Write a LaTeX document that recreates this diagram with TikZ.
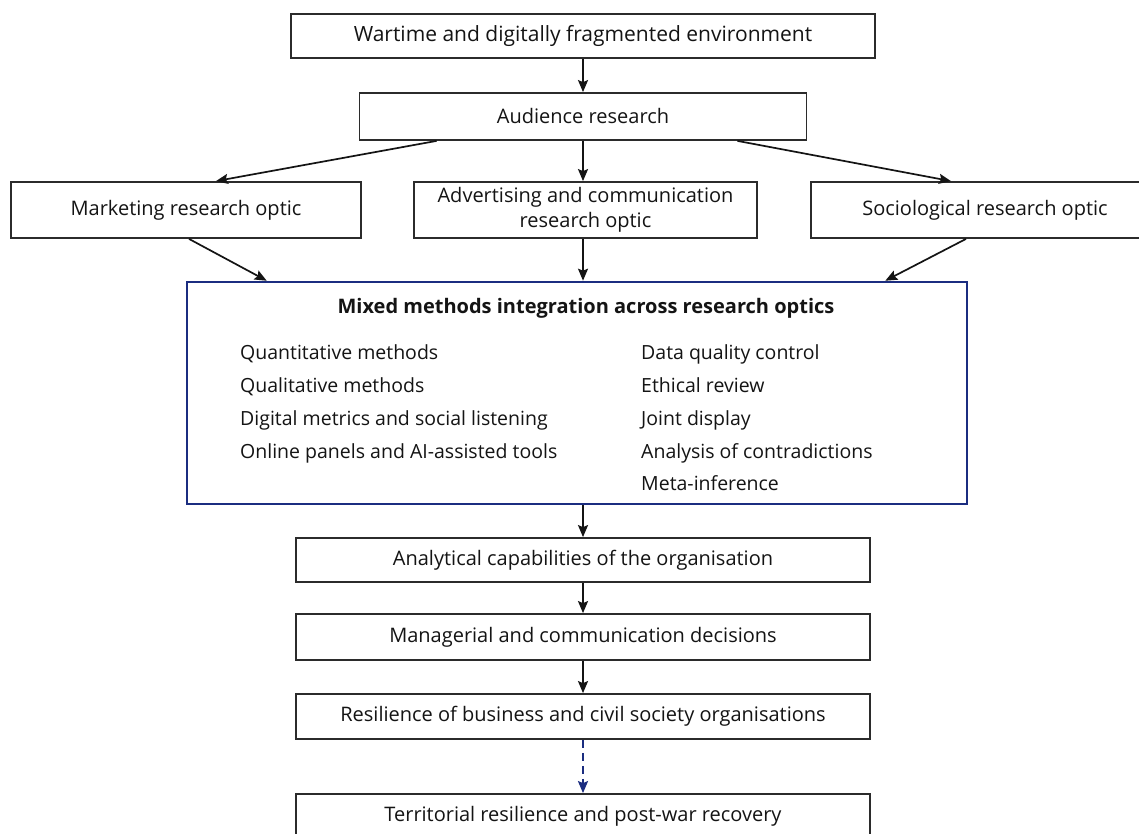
\documentclass[tikz,border=0pt]{standalone}
\usepackage{fontspec}
\setmainfont{Open Sans}
\usetikzlibrary{arrows.meta,calc}
\definecolor{navy}{HTML}{1B2D80}
\definecolor{boxline}{HTML}{2B2B2B}
\begin{document}
\begin{tikzpicture}[x=1pt,y=-1pt,
  every node/.style={font=\fontsize{20}{25}\selectfont, text=black!92},
  box/.style={draw=boxline, line width=1.8pt, rectangle, inner sep=0pt, align=center},
  bigbox/.style={draw=navy, line width=2.6pt, rectangle, inner sep=0pt},
  item/.style={anchor=base west, inner sep=0pt, font=\fontsize{19.5}{24}\selectfont},
  arr/.style={draw=black!92, line width=1.7pt, -{Stealth[length=12pt,width=10pt,inset=2pt]}},
  darr/.style={draw=navy, line width=2pt, dash pattern=on 8pt off 5pt, -{Stealth[length=12pt,width=10pt,inset=2pt]}}
]
\useasboundingbox[fill=white] (0,0) rectangle (1139,834);

\node[box, minimum width=584pt, minimum height=44pt, font=\fontsize{21}{25}\selectfont] (top) at (583,36) {Wartime and digitally fragmented environment};
\node[box, minimum width=447pt, minimum height=47pt] (aud) at (583,116.5) {Audience research};
\node[box, minimum width=350pt, minimum height=56pt] (mkt) at (186,210) {Marketing research optic};
\node[box, minimum width=343pt, minimum height=56pt] (adv) at (585.5,210) {Advertising and communication\\research optic};
\node[box, minimum width=348pt, minimum height=56pt] (soc) at (985,210) {Sociological research optic};
\node[bigbox, minimum width=780pt, minimum height=222pt] (big) at (577,393) {};

\node[inner sep=0pt] (title) at (586,308) {\bfseries Mixed methods integration across research optics};
\node[item] (l1) at (240,359) {Quantitative methods};
\node[item] (l2) at (240,392.5) {Qualitative methods};
\node[item] (l3) at (240,425.5) {Digital metrics and social listening};
\node[item] (l4) at (240,458) {Online panels and AI-assisted tools};
\node[item] (r1) at (641,359) {Data quality control};
\node[item] (r2) at (641,392.5) {Ethical review};
\node[item] (r3) at (641,425.5) {Joint display};
\node[item] (r4) at (641,458) {Analysis of contradictions};
\node[item] (r5) at (641,490) {Meta-inference};

\node[box, minimum width=574pt, minimum height=44pt] (ana) at (583,560) {Analytical capabilities of the organisation};
\node[box, minimum width=574pt, minimum height=46pt] (man) at (583,637) {Managerial and communication decisions};
\node[box, minimum width=574pt, minimum height=45pt] (res) at (583,716.5) {Resilience of business and civil society organisations};
\node[box, minimum width=574pt, minimum height=44pt] (ter) at (583,816) {Territorial resilience and post-war recovery};

\draw[arr] (top.south) -- (aud.north);
\draw[arr] ($(aud.south west)+(78,0)$) -- ($(mkt.north)+(30,0)$);
\draw[arr] (aud.south) -- (aud.south |- adv.north);
\draw[arr] ($(aud.south east)+(-70,0)$) -- ($(soc.north)+(-34,0)$);
\draw[arr] ($(mkt.south)+(3,0)$) -- ($(big.north west)+(81,0)$);
\draw[arr] (aud.south |- adv.south) -- (aud.south |- big.north);
\draw[arr] ($(soc.south)+(-19,0)$) -- ($(big.north east)+(-83,0)$);
\draw[arr] (ana.north |- big.south) -- (ana.north);
\draw[arr] (ana.south) -- (man.north);
\draw[arr] (man.south) -- (res.north);
\draw[darr] (res.south) -- (ter.north);
\end{tikzpicture}
\end{document}
